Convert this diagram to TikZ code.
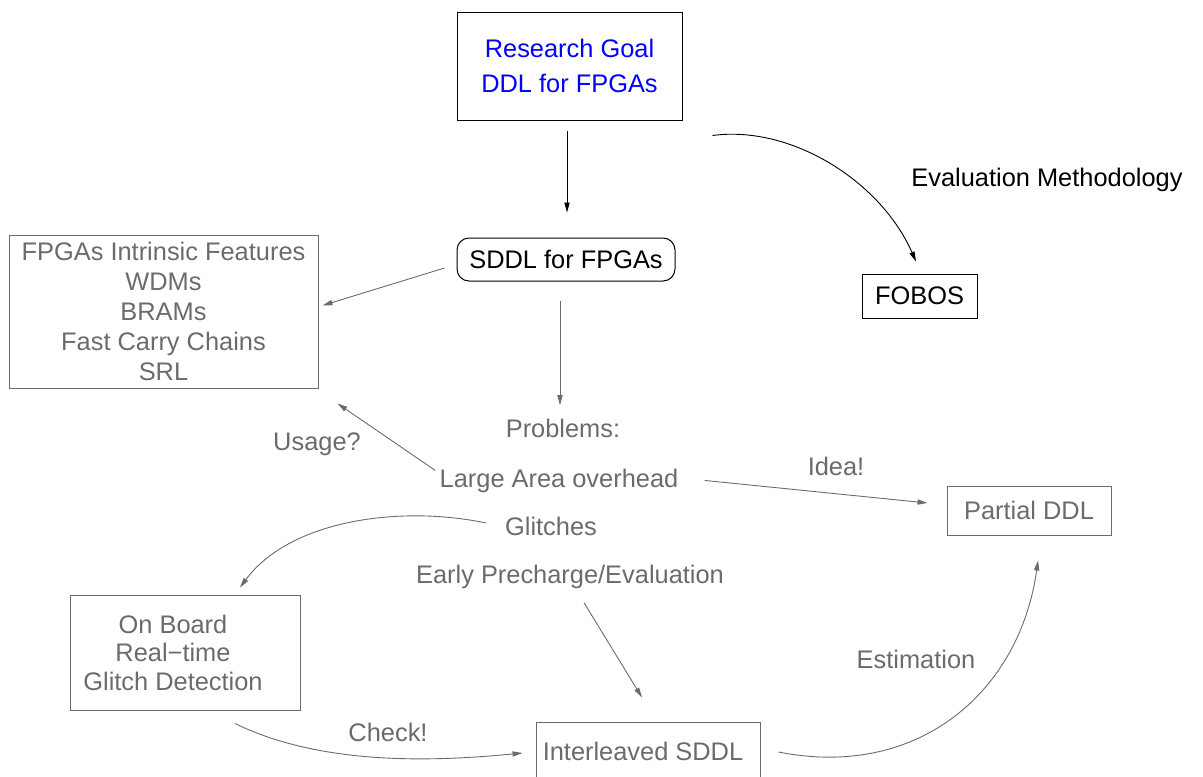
\documentclass[tikz,border=0pt]{standalone}
\usepackage{fontspec}
\setmainfont{Liberation Sans}
\usetikzlibrary{arrows.meta,calc}
\definecolor{ink}{RGB}{108,106,110}
\definecolor{goalblue}{RGB}{0,0,255}

\begin{document}
\begin{tikzpicture}[x=0.5pt,y=-0.5pt,
  every node/.style={font=\fontsize{12.7}{15}\selectfont},
  blackbox/.style={draw=black,line width=0.5pt,inner sep=0pt,align=center},
  graybox/.style={draw=ink,line width=0.5pt,inner sep=0pt,align=center,text=ink},
  plaintext/.style={inner sep=0pt,anchor=base,text=ink},
  tipped/.style={-{Triangle[length=5pt,width=2.6pt]}},
  blackline/.style={draw=black,line width=0.45pt,tipped},
  grayline/.style={draw=ink,line width=0.45pt,tipped}]

\useasboundingbox (0,0) rectangle (1203,776);

% boxes
\node[blackbox, text=goalblue, minimum width=112.5pt, minimum height=54pt,
      font=\fontsize{12.7}{17.5}\selectfont] (goal) at (569.5,66) {Research Goal\\DDL for FPGAs};
\node[blackbox, rounded corners=6pt, minimum width=109pt, minimum height=21.5pt] (sddl) at (566,259.5) {SDDL for FPGAs};
\node[blackbox, minimum width=57.5pt, minimum height=22pt] (fobos) at (919.5,296) {FOBOS};
\node[graybox, minimum width=154.5pt, minimum height=76.5pt] (feat) at (163.5,311.5)
  {FPGAs Intrinsic Features\\WDMs\\BRAMs\\Fast Carry Chains\\SRL};
\node[graybox, minimum width=82pt, minimum height=24.5pt] (partial) at (1029,510.5) {Partial DDL};
\node[graybox, minimum width=115pt, minimum height=57.5pt] (onboard) at (185,652.5) {};
\node[inner sep=0pt, text=ink, align=center, font=\fontsize{12.7}{14.25}\selectfont]
  (onboardtext) at (173,652.5) {On Board\\Real−time\\Glitch Detection};
\node[graybox, minimum width=112pt, minimum height=29pt] (inter) at (648,751) {};
\node[plaintext] (intertext) at (643,760) {Interleaved SDDL};

% free texts
\node[plaintext, text=black] (evalm) at (1047,186) {Evaluation Methodology};
\node[plaintext] (probs) at (563,437) {Problems:};
\node[plaintext] (large) at (559,487) {Large Area overhead};
\node[plaintext] (glitch) at (551,535) {Glitches};
\node[plaintext] (early) at (570,583) {Early Precharge/Evaluation};
\node[plaintext] (usage) at (317,450) {Usage?};
\node[plaintext] (idea) at (836,475) {Idea!};
\node[plaintext] (check) at (388,741) {Check!};
\node[plaintext] (estim) at (916,668) {Estimation};

% connectors
\draw[blackline] ($(goal.south)+(-2.5,10)$) -- ($(sddl.north)+(1,-25)$);
\draw[blackline] ($(goal.south east)+(30,15)$) .. controls (790,125) and (880,180) .. ($(fobos.north)+(-3.5,-12)$);
\draw[grayline] ($(sddl.south)+(-6,19)$) -- ($(probs.north)+(-3,-13)$);
\draw[grayline] ($(sddl.west)+(-12,8.5)$) -- ($(feat.east)+(4,-6)$);
\draw[grayline] ($(large.west)+(-4,-10)$) -- ($(feat.south east)+(19,15)$);
\draw[grayline] ($(large.east)+(26,0)$) -- ($(partial.west)+(-19,-7.5)$);
\draw[grayline] ($(glitch.west)+(-19,-3)$) .. controls (400,505) and (290,520) .. ($(onboard.north)+(55,-7)$);
\draw[grayline] ($(early.south)+(14,14)$) -- ($(inter.north)+(-6,-24)$);
\draw[grayline] ($(onboard.south)+(50,13)$) .. controls (320,765) and (430,762) .. ($(inter.west)+(-13,2)$);
\draw[grayline] ($(inter.east)+(18,1)$) .. controls (920,780) and (1020,690) .. ($(partial.south)+(9,25)$);
\end{tikzpicture}
\end{document}
